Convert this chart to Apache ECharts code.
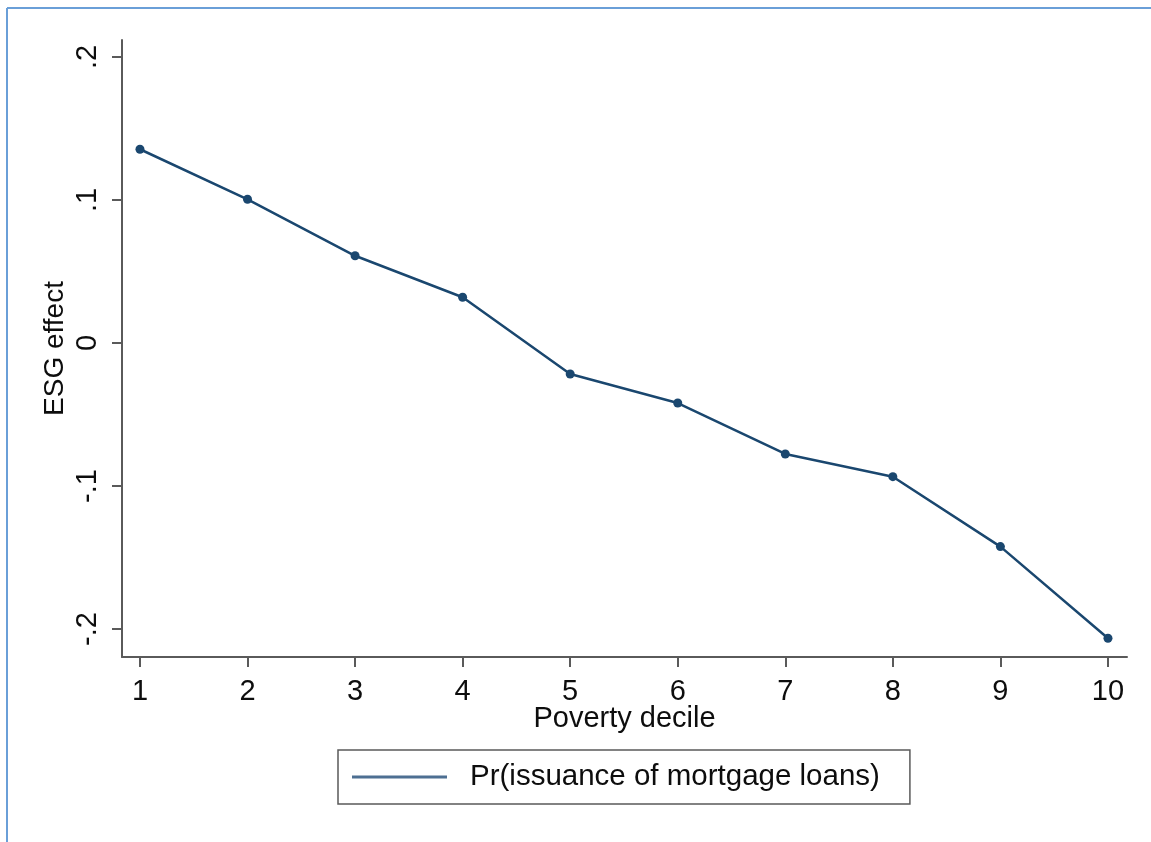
<!DOCTYPE html>
<html>
<head>
<meta charset="utf-8">
<script src="https://cdn.jsdelivr.net/npm/echarts@6/dist/echarts.min.js"></script>
<style>
  html, body { margin: 0; padding: 0; background: #ffffff; }
  #chart { width: 1151px; height: 842px; }
</style>
</head>
<body>
<div id="chart"></div>
<script>
// Poverty deciles and estimated ESG effect on mortgage loan issuance
const deciles = [1, 2, 3, 4, 5, 6, 7, 8, 9, 10];
const esgEffect = [0.1355, 0.1005, 0.061, 0.032, -0.0217, -0.042, -0.0776, -0.0935, -0.1424, -0.2065];
const xTicks = [1, 2, 3, 4, 5, 6, 7, 8, 9, 10];
const yTicks = [-0.2, -0.1, 0, 0.1, 0.2];
const yTickLabels = ['-.2', '-.1', '0', '.1', '.2'];
const seriesName = 'Pr(issuance of mortgage loans)';

const font = 'Liberation Sans, Arial, sans-serif';
const axisGray = '#5a5a5a';
const navy = '#1a476f';
const textColor = '#0d0d0d';

const chart = echarts.init(document.getElementById('chart'), null, { renderer: 'canvas' });

chart.setOption({
  backgroundColor: '#ffffff',
  animation: false,
  textStyle: { fontFamily: font },
  graphic: [
    { type: 'line', shape: { x1: 7, y1: 8, x2: 1151, y2: 8 }, style: { stroke: '#6a9fd8', lineWidth: 2 } },
    { type: 'line', shape: { x1: 7, y1: 8, x2: 7, y2: 842 }, style: { stroke: '#6a9fd8', lineWidth: 2 } }
  ],
  grid: { left: 122, top: 40, right: 24, bottom: 185, containLabel: false },
  legend: {
    left: 338,
    top: 750,
    padding: [12, 30, 12, 14],
    borderColor: axisGray,
    borderWidth: 1.5,
    itemWidth: 95,
    itemHeight: 3,
    icon: 'rect',
    itemStyle: { color: '#4d6f92' },
    textStyle: { fontFamily: font, fontSize: 29.5, color: textColor, padding: [0, 0, 0, 18] },
    data: [seriesName]
  },
  xAxis: {
    type: 'value',
    min: 0.833,
    max: 10.177,
    name: 'Poverty decile',
    nameLocation: 'middle',
    nameGap: 47,
    nameMoveOverlap: false,
    nameTextStyle: { fontFamily: font, fontSize: 29, color: textColor },
    axisLine: { show: true, onZero: false, lineStyle: { color: axisGray, width: 2 } },
    axisTick: { show: true, length: 10, lineStyle: { color: axisGray, width: 2 }, customValues: xTicks },
    axisLabel: { fontFamily: font, fontSize: 29, color: textColor, margin: 20, customValues: xTicks, formatter: v => String(Math.round(v)) },
    splitLine: { show: false }
  },
  yAxis: {
    type: 'value',
    min: -0.2196,
    max: 0.2119,
    name: 'ESG effect',
    nameLocation: 'middle',
    nameGap: 53,
    nameRotate: 90,
    nameMoveOverlap: false,
    nameTextStyle: { fontFamily: font, fontSize: 28, color: textColor },
    axisLine: { show: true, onZero: false, lineStyle: { color: axisGray, width: 2 } },
    axisTick: { show: true, length: 10, lineStyle: { color: axisGray, width: 2 }, customValues: yTicks },
    axisLabel: {
      fontFamily: font, fontSize: 29, color: textColor, margin: 20, rotate: 90,
      customValues: yTicks,
      formatter: v => {
        const i = yTicks.findIndex(t => Math.abs(t - v) < 1e-6);
        return i >= 0 ? yTickLabels[i] : '';
      }
    },
    splitLine: { show: false }
  },
  series: [{
    name: seriesName,
    type: 'line',
    data: deciles.map((d, i) => [d, esgEffect[i]]),
    symbol: 'circle',
    symbolSize: 9,
    itemStyle: { color: navy },
    lineStyle: { color: navy, width: 2.5 }
  }]
});
</script>
</body>
</html>
